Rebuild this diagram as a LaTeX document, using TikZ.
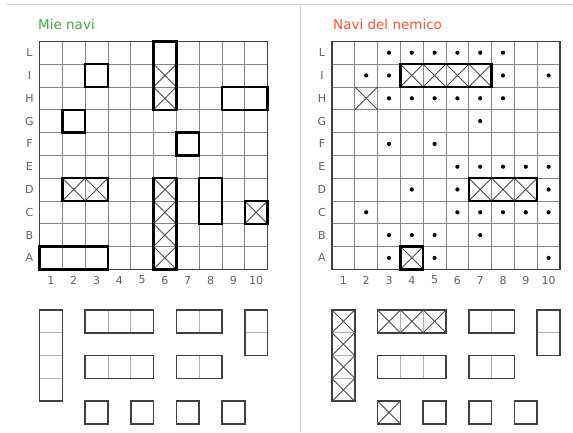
\documentclass[tikz,border=0pt]{standalone}
\usepackage{fontspec}
\setmainfont{DejaVu Sans}
\definecolor{owngreen}{RGB}{70,165,70}
\definecolor{enemyred}{RGB}{255,85,50}

\begin{document}
\begin{tikzpicture}[
    x=1pt,
    y=-1pt,
    frame/.style={
        draw=black!18,
        line width=0.9pt
    },
    title/.style={
        anchor=west,
        inner sep=0pt,
        font=\fontsize{13.5}{15}\selectfont
    },
    axis label/.style={
        inner sep=0pt,
        text=black!62,
        font=\fontsize{11}{12}\selectfont
    },
    gridline/.style={
        draw=black!48,
        line width=0.7pt
    },
    border/.style={
        draw=black!75,
        line width=1.1pt
    },
    ship/.style={
        draw=black,
        line width=2.4pt
    },
    hit/.style={
        draw=black!70,
        line width=0.9pt
    },
    miss/.style={
        fill=black
    },
    fleet/.style={
        draw=black!75,
        line width=1.6pt
    },
    divider/.style={
        draw=black!30,
        line width=0.8pt
    }
]

\useasboundingbox (0,0) rectangle (573,432);

% separators
\draw[frame] (7,4.5) -- (573,4.5);
\draw[frame] (300.7,4.5) -- (300.7,432);

\node[title,text=owngreen] (own title) at (38,24) {Mie navi};
\node[title,text=enemyred] (enemy title) at (333,24) {Navi del nemico};

% my board
\begin{scope}[shift={(39.5,269.3)},x=22.8pt,y=22.8pt]
    \draw[gridline,step=1] (0,0) grid (10,10);
    \draw[border] (0,0) rectangle (10,10);
    \foreach \r [count=\i] in {A,B,C,D,E,F,G,H,I,L}
        \node[axis label] (own row \r) at (-0.44,\i-0.5) {\r};
    \foreach \c in {1,...,10}
        \node[axis label] (own col \c) at (\c-0.5,-0.47) {\c};
    \foreach \x/\y in {6/9,6/8,2/4,3/4,6/1,6/2,6/3,6/4,10/3}
        \draw[hit] (\x-1,\y-1) -- (\x,\y) (\x-1,\y) -- (\x,\y-1);
    \draw[ship] (5,7) rectangle (6,10);
    \draw[ship] (2,8) rectangle (3,9);
    \draw[ship] (8,7) rectangle (10,8);
    \draw[ship] (1,6) rectangle (2,7);
    \draw[ship] (6,5) rectangle (7,6);
    \draw[ship] (1,3) rectangle (3,4);
    \draw[ship] (5,0) rectangle (6,4);
    \draw[ship] (7,2) rectangle (8,4);
    \draw[ship] (9,2) rectangle (10,3);
    \draw[ship] (0,0) rectangle (3,1);
\end{scope}

% enemy board
\begin{scope}[shift={(332,269.3)},x=22.8pt,y=22.8pt]
    \draw[gridline,step=1] (0,0) grid (10,10);
    \draw[border] (0,0) rectangle (10,10);
    \foreach \r [count=\i] in {A,B,C,D,E,F,G,H,I,L}
        \node[axis label] (enemy row \r) at (-0.44,\i-0.5) {\r};
    \foreach \c in {1,...,10}
        \node[axis label] (enemy col \c) at (\c-0.5,-0.47) {\c};
    \foreach \x/\y in {3/10,4/10,5/10,6/10,7/10,8/10,
                       2/9,3/9,8/9,10/9,
                       3/8,4/8,5/8,6/8,7/8,8/8,
                       7/7,3/6,5/6,
                       6/5,7/5,8/5,9/5,10/5,
                       4/4,6/4,10/4,
                       2/3,6/3,7/3,8/3,9/3,10/3,
                       3/2,4/2,5/2,7/2,
                       3/1,5/1,10/1}
        \fill[miss] (\x-0.5,\y-0.5) circle (2.1pt);
    \foreach \x/\y in {4/9,5/9,6/9,7/9,2/8,7/4,8/4,9/4,4/1}
        \draw[hit] (\x-1,\y-1) -- (\x,\y) (\x-1,\y) -- (\x,\y-1);
    \draw[ship] (3,8) rectangle (7,9);
    \draw[ship] (6,3) rectangle (9,4);
    \draw[ship] (3,0) rectangle (4,1);
\end{scope}

% my fleet
\begin{scope}[shift={(39.5,424)},x=22.8pt,y=22.8pt]
    \foreach \c/\r/\w/\h in {0/1/1/4,2/4/3/1,6/4/2/1,9/3/1/2,
                             2/2/3/1,6/2/2/1,
                             2/0/1/1,4/0/1/1,6/0/1/1,8/0/1/1} {
        \draw[divider,step=1] (\c,\r) grid (\c+\w,\r+\h);
        \draw[fleet] (\c,\r) rectangle (\c+\w,\r+\h);
    }
\end{scope}

% enemy fleet
\begin{scope}[shift={(332,424)},x=22.8pt,y=22.8pt]
    \foreach \x/\y in {1/2,1/3,1/4,1/5,3/5,4/5,5/5,3/1}
        \draw[hit] (\x-1,\y-1) -- (\x,\y) (\x-1,\y) -- (\x,\y-1);
    \foreach \c/\r/\w/\h in {0/1/1/4,2/4/3/1,6/4/2/1,9/3/1/2,
                             2/2/3/1,6/2/2/1,
                             2/0/1/1,4/0/1/1,6/0/1/1,8/0/1/1} {
        \draw[divider,step=1] (\c,\r) grid (\c+\w,\r+\h);
        \draw[fleet] (\c,\r) rectangle (\c+\w,\r+\h);
    }
\end{scope}

\end{tikzpicture}
\end{document}
